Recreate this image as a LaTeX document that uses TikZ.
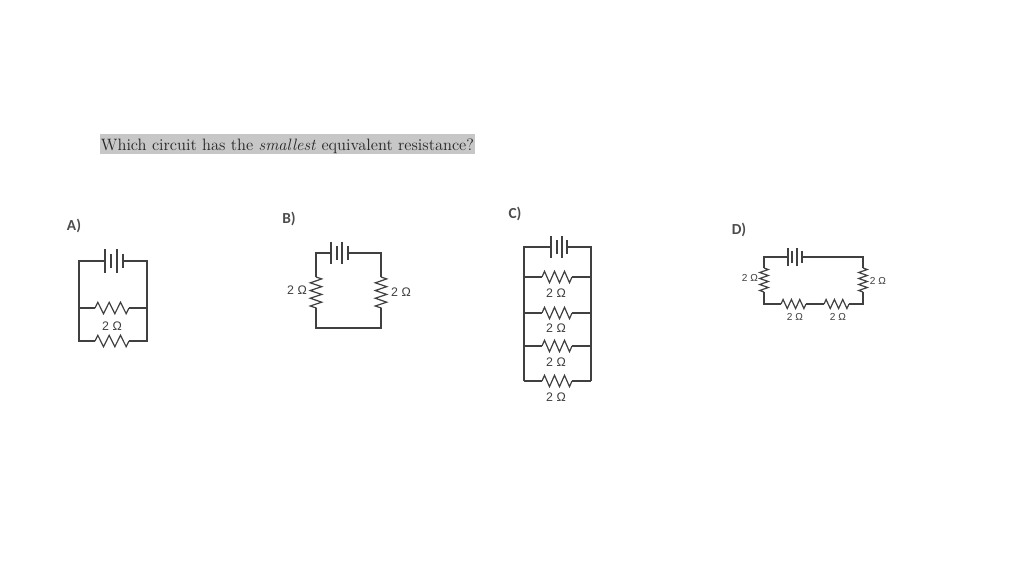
\documentclass[tikz,border=0pt]{standalone}
\usepackage{fontspec}
\usetikzlibrary{decorations.pathmorphing}
\newfontfamily\headfont{Carlito}
\newfontfamily\ohmfont{Liberation Sans}
\tikzset{
    wire/.style={draw=black!75, line width=0.9pt},
    res/.style={wire, decorate, decoration={zigzag, segment length=#1, amplitude=4.3pt}},
    longplate/.style={fill=black!75, inner sep=0pt, minimum width=0.9pt, minimum height=#1},
    shortplate/.style={fill=black!75, inner sep=0pt, minimum width=0.9pt, minimum height=#1},
    ohm/.style={font=\ohmfont\fontsize{9.3}{11}\selectfont, text=black!75, inner sep=0pt},
    ohmsmall/.style={font=\ohmfont\fontsize{7.6}{9}\selectfont, text=black!75, inner sep=0pt},
    letter/.style={font=\headfont\bfseries\fontsize{11.5}{13}\selectfont, text=black!70, inner sep=0pt},
}

\begin{document}
\begin{tikzpicture}[x=0.75pt, y=-0.75pt]
  \useasboundingbox (0,0) rectangle (1024,576);
  \node [fill=black!22, inner sep=0pt, minimum width=281.25pt, minimum height=15pt, text height=11.5pt, text depth=2.5pt, text=black!85, font=\fontsize{12.35}{14}\selectfont] (question) at (287.5,144) {Which circuit has the \textit{smallest} equivalent resistance?};

  % CIRCUIT A
  \node [letter] (atitle) at (74,226) {A)};
  \node [longplate=18pt] (abat1) at (105,261) {};
  \node [shortplate=11pt] (abat2) at (111,261) {};
  \node [longplate=18pt] (abat3) at (117,261) {};
  \node [shortplate=11pt] (abat4) at (123,261) {};
  \coordinate (atl) at (79,261);
  \coordinate (atr) at (147,261);
  \coordinate (aml) at (79,308);
  \coordinate (amr) at (147,308);
  \coordinate (abl) at (79,341);
  \coordinate (abr) at (147,341);
  \coordinate (ar1a) at (95,308);
  \coordinate (ar1b) at (129,308);
  \coordinate (ar2a) at (95,341);
  \coordinate (ar2b) at (129,341);
  \node [ohm] (alabel) at (112,326) {2 Ω};
  \draw[wire] (abat1) -- (atl) -- (abl) -- (ar2a);
  \draw[wire] (abat4) -- (atr) -- (abr) -- (ar2b);
  \draw[wire] (aml) -- (ar1a);
  \draw[wire] (amr) -- (ar1b);
  \draw[res=8.5pt] (ar1a) -- (ar1b);
  \draw[res=8.5pt] (ar2a) -- (ar2b);

  % CIRCUIT B
  \node [letter] (btitle) at (289,219) {B)};
  \node [longplate=17pt] (bbat1) at (331,253) {};
  \node [shortplate=11pt] (bbat2) at (337,253) {};
  \node [longplate=17pt] (bbat3) at (342,253) {};
  \node [shortplate=11pt] (bbat4) at (348,253) {};
  \coordinate (btl) at (316,253);
  \coordinate (btr) at (381,253);
  \coordinate (bbl) at (316,328);
  \coordinate (bbr) at (381,328);
  \coordinate (br1a) at (316,277);
  \coordinate (br1b) at (316,308);
  \coordinate (br2a) at (381,277);
  \coordinate (br2b) at (381,308);
  \node [ohm] (blabel1) at (297,290) {2 Ω};
  \node [ohm] (blabel2) at (401,292) {2 Ω};
  \draw[wire] (bbat1) -- (btl) -- (br1a);
  \draw[wire] (bbat4) -- (btr) -- (br2a);
  \draw[wire] (br1b) -- (bbl) -- (bbr) -- (br2b);
  \draw[res=5.8pt] (br1a) -- (br1b);
  \draw[res=5.8pt] (br2a) -- (br2b);

  % CIRCUIT C
  \node [letter] (ctitle) at (515,214) {C)};
  \node [longplate=16pt] (cbat1) at (551,247) {};
  \node [shortplate=11pt] (cbat2) at (557,247) {};
  \node [longplate=16pt] (cbat3) at (562,247) {};
  \node [shortplate=11pt] (cbat4) at (567,247) {};
  \coordinate (ctl) at (524,247);
  \coordinate (ctr) at (591,247);
  \coordinate (cbl) at (524,381);
  \coordinate (cbr) at (591,381);
  \draw[wire] (cbat1) -- (ctl) -- (cbl);
  \draw[wire] (cbat4) -- (ctr) -- (cbr);
  \foreach \name/\yw/\yl in {1/277/293, 2/313/328, 3/346/362, 4/381/397} {
    \coordinate (cl\name) at (524,\yw);
    \coordinate (cr\name) at (591,\yw);
    \coordinate (cra\name) at (542,\yw);
    \coordinate (crb\name) at (572,\yw);
    \node [ohm] (clabel\name) at (556,\yl) {2 Ω};
    \draw[wire] (cl\name) -- (cra\name);
    \draw[wire] (cr\name) -- (crb\name);
    \draw[res=7.5pt] (cra\name) -- (crb\name);
  }

  % CIRCUIT D
  \node [letter] (dtitle) at (739,230) {D)};
  \node [longplate=13pt] (dbat1) at (788,257) {};
  \node [shortplate=9pt] (dbat2) at (792,257) {};
  \node [longplate=13pt] (dbat3) at (797,257) {};
  \node [shortplate=9pt] (dbat4) at (802,257) {};
  \coordinate (dtl) at (764,257);
  \coordinate (dtr) at (863,257);
  \coordinate (dbl) at (764,304);
  \coordinate (dbr) at (863,304);
  \coordinate (dr1a) at (764,268);
  \coordinate (dr1b) at (764,292);
  \coordinate (dr2a) at (863,268);
  \coordinate (dr2b) at (863,292);
  \coordinate (dr3a) at (781,304);
  \coordinate (dr3b) at (806,304);
  \coordinate (dr4a) at (824,304);
  \coordinate (dr4b) at (849,304);
  \node [ohmsmall] (dlabel1) at (750,278) {2 Ω};
  \node [ohmsmall] (dlabel2) at (878,281) {2 Ω};
  \node [ohmsmall] (dlabel3) at (795,317) {2 Ω};
  \node [ohmsmall] (dlabel4) at (838,317) {2 Ω};
  \draw[wire] (dbat1) -- (dtl) -- (dr1a);
  \draw[wire] (dbat4) -- (dtr) -- (dr2a);
  \draw[wire] (dr1b) -- (dbl) -- (dr3a);
  \draw[wire] (dr3b) -- (dr4a);
  \draw[wire] (dr4b) -- (dbr) -- (dr2b);
  \draw[res=4.5pt, decoration={amplitude=3.2pt}] (dr1a) -- (dr1b);
  \draw[res=4.5pt, decoration={amplitude=3.2pt}] (dr2a) -- (dr2b);
  \draw[res=6.25pt, decoration={amplitude=3.4pt}] (dr3a) -- (dr3b);
  \draw[res=6.25pt, decoration={amplitude=3.4pt}] (dr4a) -- (dr4b);
\end{tikzpicture}
\end{document}
